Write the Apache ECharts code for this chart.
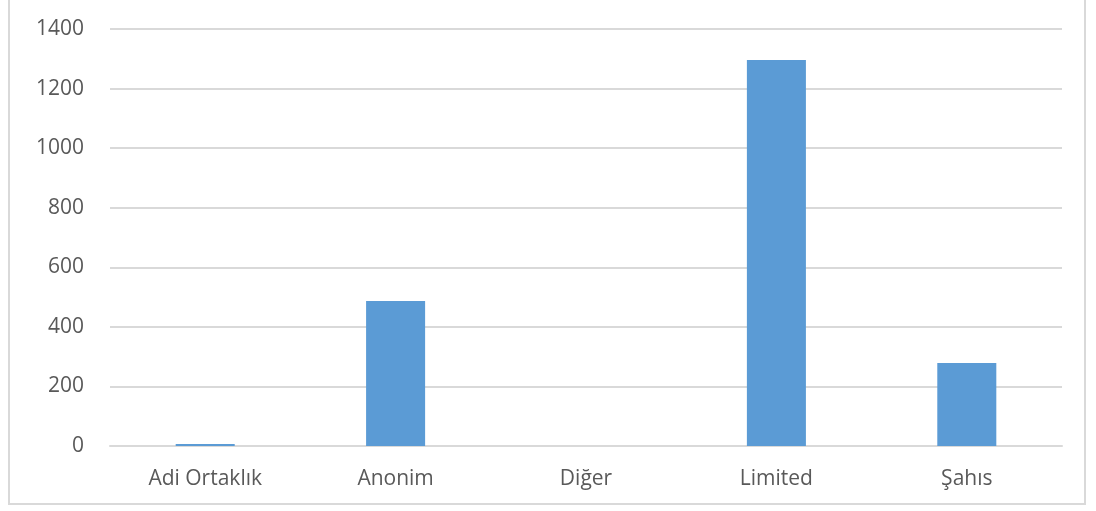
<!DOCTYPE html>
<html>
<head>
<meta charset="utf-8">
<script src="https://cdn.jsdelivr.net/npm/echarts@6/dist/echarts.min.js"></script>
<style>
  html, body { margin: 0; padding: 0; background: #fff; }
  #frame { position: absolute; left: 8px; top: -4px; width: 1078px; height: 509px; border: 2px solid #d9d9d9; box-sizing: border-box; }
  #chart { position: absolute; left: 0; top: 0; width: 1096px; height: 511px; }
</style>
</head>
<body>
<div id="frame"></div>
<div id="chart"></div>
<script>
// kategoriler ve değerler
const categories = ['Adi Ortaklık', 'Anonim', 'Diğer', 'Limited', 'Şahıs']
const counts = [7, 487, 0, 1296, 279]
const yTicks = { min: 0, max: 1400, interval: 200 }

const chart = echarts.init(document.getElementById('chart'))

chart.setOption({
  animation: false,
  grid: { left: 110, right: 34, top: 29, bottom: 65, containLabel: false },
  xAxis: {
    type: 'category',
    data: categories,
    axisTick: { show: false },
    axisLine: { lineStyle: { color: '#d9d9d9', width: 2 } },
    axisLabel: { color: '#595959', fontSize: 21, fontFamily: 'Open Sans', margin: 23 }
  },
  yAxis: {
    type: 'value',
    min: yTicks.min,
    max: yTicks.max,
    interval: yTicks.interval,
    axisLine: { show: false },
    axisTick: { show: false },
    splitLine: { lineStyle: { color: '#d9d9d9', width: 2 } },
    axisLabel: { color: '#595959', fontSize: 21, fontFamily: 'Open Sans', margin: 26, formatter: v => String(v) }
  },
  series: [{
    type: 'bar',
    data: counts,
    barWidth: '31%',
    itemStyle: { color: '#5b9bd5' }
  }]
})
</script>
</body>
</html>
